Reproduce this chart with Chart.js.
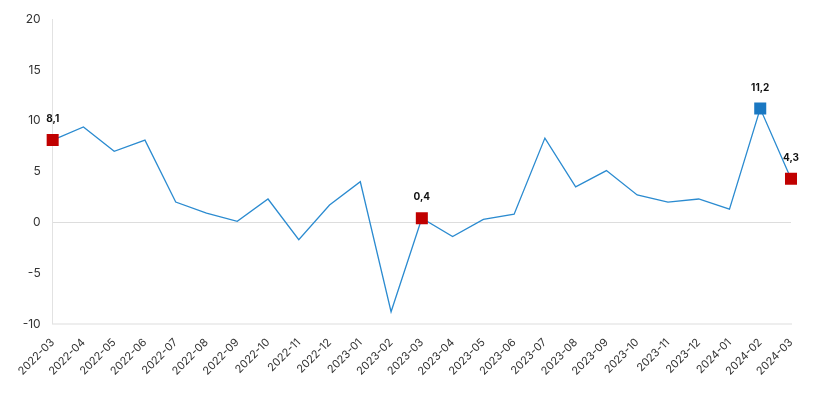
<!DOCTYPE html>
<html><head><meta charset="utf-8">
<script src="https://cdn.jsdelivr.net/npm/chart.js@4/dist/chart.umd.min.js"></script>
<style>html,body{margin:0;padding:0;background:#fff}#wrap{width:825px;height:400px}</style>
</head><body><div id="wrap"><canvas id="c" width="825" height="400"></canvas></div>
<script>
const categories = ["2022-03","2022-04","2022-05","2022-06","2022-07","2022-08","2022-09","2022-10","2022-11","2022-12","2023-01","2023-02","2023-03","2023-04","2023-05","2023-06","2023-07","2023-08","2023-09","2023-10","2023-11","2023-12","2024-01","2024-02","2024-03"];
const values = [8.1,9.4,7.0,8.1,2.0,0.9,0.1,2.3,-1.7,1.7,4.0,-8.8,0.4,-1.4,0.3,0.8,8.3,3.5,5.1,2.7,2.0,2.3,1.3,11.2,4.3];
const highlighted = {0:"#c00000",12:"#c00000",23:"#1a78c2",24:"#c00000"};
const labelText = v => v.toFixed(1).replace(".", ",");

const labelPlugin = {
  id: "valLabels",
  afterDatasetsDraw(chart) {
    const ctx = chart.ctx;
    const meta = chart.getDatasetMeta(0);
    ctx.save();
    ctx.font = "bold 10px Inter, 'Liberation Sans', sans-serif";
    ctx.fillStyle = "#111";
    ctx.textAlign = "center";
    ctx.textBaseline = "middle";
    Object.keys(highlighted).forEach(k => {
      const i = +k;
      const el = meta.data[i];
      ctx.fillText(labelText(values[i]), el.x, el.y - 21);
    });
    ctx.restore();
  }
};

new Chart(document.getElementById("c"), {
  type: "line",
  data: {
    labels: categories,
    datasets: [{
      data: values,
      borderColor: "#2b8bd0",
      borderWidth: 1.3,
      tension: 0,
      pointStyle: "rect",
      pointRadius: values.map((v,i) => highlighted[i] ? 8.5 : 0),
      pointHoverRadius: values.map((v,i) => highlighted[i] ? 8.5 : 0),
      pointBackgroundColor: values.map((v,i) => highlighted[i] || "#2b8bd0"),
      pointBorderColor: values.map((v,i) => highlighted[i] || "#2b8bd0"),
      pointBorderWidth: 0
    }]
  },
  options: {
    responsive: false,
    animation: false,
    layout: { padding: { top: 19, right: 34, left: 10.7, bottom: 18 } },
    plugins: { legend: { display: false }, tooltip: { enabled: false } },
    scales: {
      x: {
        offset: false,
        grid: { display: false },
        border: { display: true, color: "#eeeeee", width: 2 },
        ticks: { maxRotation: 45, minRotation: 45, autoSkip: false, color: "#333", padding: 4,
                 font: { family: "Inter, 'Liberation Sans', sans-serif", size: 11 } }
      },
      y: {
        min: -10, max: 20,
        ticks: { stepSize: 5, color: "#333", padding: 12,
                 font: { family: "Inter, 'Liberation Sans', sans-serif", size: 12 } },
        grid: { drawTicks: false, color: c => c.tick && c.tick.value === 0 ? "#dddddd" : "rgba(0,0,0,0)" },
        border: { display: true, color: "#e2e2e2", width: 1 }
      }
    }
  },
  plugins: [labelPlugin]
});
</script></body></html>
